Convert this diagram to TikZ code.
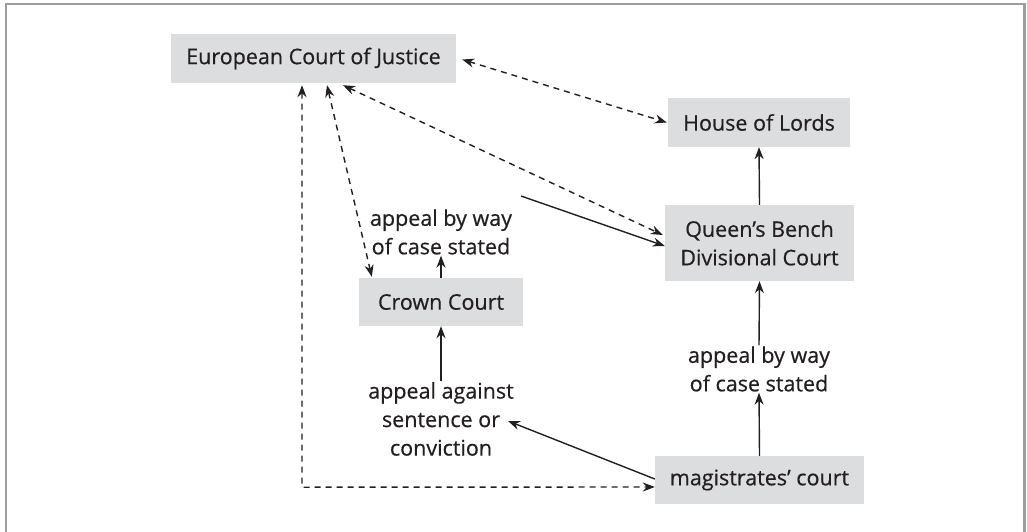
\documentclass[tikz,border=0pt]{standalone}
\usepackage{fontspec}
\setmainfont[FakeBold=0.5]{Open Sans}
\usetikzlibrary{arrows.meta}
\definecolor{boxgray}{HTML}{DCDDDF}
\definecolor{framegray}{HTML}{9D9D9F}
\definecolor{ink}{HTML}{231F20}
\tikzset{
  court/.style={fill=boxgray, text=ink, inner sep=0pt, align=center, font=\fontsize{21.5}{28.5}\selectfont},
  lbl/.style={inner sep=1pt, text=ink, align=center, font=\fontsize{21.5}{28.5}\selectfont},
  tip/.style={-{Stealth[length=12pt,width=9pt]}},
  solidarrow/.style={tip, ink, line width=1.4pt},
  dasharrow/.style={{Stealth[length=12pt,width=9pt]}-{Stealth[length=12pt,width=9pt]}, ink, line width=1.4pt, dash pattern=on 6pt off 5pt},
}
\begin{document}
\begin{tikzpicture}[x=1pt,y=-1pt]
\useasboundingbox (0,0) rectangle (1027,532);
\draw[framegray, line width=2.5pt] (6,540) -- (6,4) -- (1024.5,4) -- (1024.5,540);

\node[court, minimum width=285pt, minimum height=49pt] (ecj) at (313.5,58.5) {European Court of Justice};
\node[court, minimum width=182pt, minimum height=49pt] (hol) at (759,122.5) {House of Lords};
\node[court, minimum width=189pt, minimum height=76pt] (qbdc) at (759.5,243) {Queen’s Bench\\Divisional Court};
\node[court, minimum width=164pt, minimum height=48pt] (crown) at (441,302) {Crown Court};
\node[court, minimum width=209pt, minimum height=48pt] (mag) at (759.5,480) {magistrates’ court};

\node[lbl] (l1) at (441,232) {appeal by way\\of case stated};
\node[lbl] (l2) at (759,369) {appeal by way\\of case stated};
\node[lbl] (l3) at (441,419) {appeal against\\sentence or\\conviction};

\coordinate (l1e) at (521,196);
\coordinate (l3e) at (508,421);

% solid arrows
\draw[solidarrow] (qbdc.north) -- (hol.south);
\draw[solidarrow] (l2.north) -- (qbdc.south);
\draw[solidarrow] (mag.north) -- (l2.south);
\draw[solidarrow] (crown.north) -- (l1.south);
\draw[solidarrow] (l3.north) -- (crown.south);
\draw[solidarrow] (l1e) -- ([yshift=-3pt]qbdc.west);
\draw[solidarrow] ([yshift=1pt]mag.west) -- (l3e);

% dashed arrows
\draw[dasharrow] ([xshift=6pt,yshift=-1pt]ecj.east) -- ([xshift=-1pt]hol.west);
\draw[dasharrow] ([xshift=29.5pt,yshift=-2pt]ecj.south) -- ([xshift=-2pt,yshift=8pt]qbdc.west);
\draw[dasharrow] ([xshift=13.5pt,yshift=-2pt]ecj.south) -- ([xshift=13pt,yshift=1pt]crown.north west);
\draw[dasharrow] ([xshift=-11.5pt,yshift=-2pt]ecj.south) -- ++(0,402) -- ([yshift=-7pt]mag.west);
\end{tikzpicture}
\end{document}
